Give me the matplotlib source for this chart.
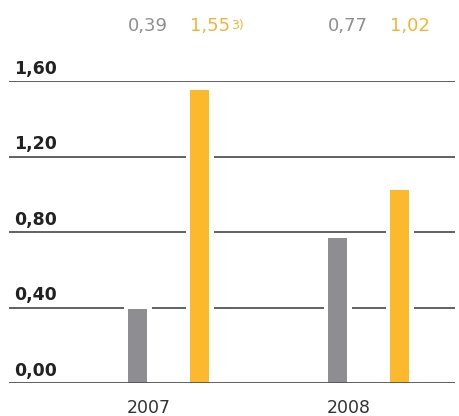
import matplotlib
matplotlib.use("Agg")
import matplotlib.pyplot as plt

years = ["2007", "2008"]
series_a = [0.39, 0.77]
series_b = [1.55, 1.02]
label_a = ["0,39", "0,77"]
label_b = ["1,55", "1,02"]
footnote_b = ["3)", ""]
yticks = [0.0, 0.4, 0.8, 1.2, 1.6]
ytick_labels = ["0,00", "0,40", "0,80", "1,20", "1,60"]

c_gray = "#8e8d92"
c_orange = "#fdb92d"
t_gray = "#8f8f8f"
t_orange = "#f9b233"
grid_c = "#555555"

fig = plt.figure(figsize=(4.59, 4.16), dpi=100)
W, H = 459, 416
ax = fig.add_axes([9 / W, (H - 383) / H, 446 / W, (383 - 81) / H])
ax.set_xlim(-0.7975, 1.4325)
ax.set_ylim(0, 1.6)
for s in ax.spines.values():
    s.set_visible(False)
ax.set_yticks([])
ax.set_xticks([])

off = 0.155
bw = 0.095
gapw = 0.14
pad = 0.022

# gridlines and y labels
for yv, lab in zip(yticks, ytick_labels):
    ax.axhline(yv, color=grid_c, lw=1.3, zorder=1 if yv > 0 else 5)
    ax.text(-0.7975 + 5 / 200, yv + 0.016, lab, fontsize=12.5,
            fontweight="bold", color="#222222", ha="left", va="bottom")

for i in range(len(years)):
    x = i
    for dx, v, col in [(-off, series_a[i], c_gray), (off, series_b[i], c_orange)]:
        ax.bar(x + dx, v + pad, width=gapw, color="white", zorder=2)
        ax.bar(x + dx, v, width=bw, color=col, zorder=3)
    ax.text(x - off - bw / 2, 1.865, label_a[i], fontsize=13, color=t_gray,
            ha="left", va="baseline", clip_on=False)
    tb = ax.text(x + off - bw / 2, 1.865, label_b[i], fontsize=13, color=t_orange,
                 ha="left", va="baseline", clip_on=False)
    if footnote_b[i]:
        ax.annotate(footnote_b[i], xy=(1, 1), xycoords=tb, xytext=(0.5, -1.5),
                    textcoords="offset points", fontsize=9, color=t_orange,
                    ha="left", va="top")
    ax.text(x - 0.0975, -0.132, years[i], fontsize=12.5, color="#333333",
            ha="center", va="center", clip_on=False)

fig.savefig("out.png", dpi=100)
